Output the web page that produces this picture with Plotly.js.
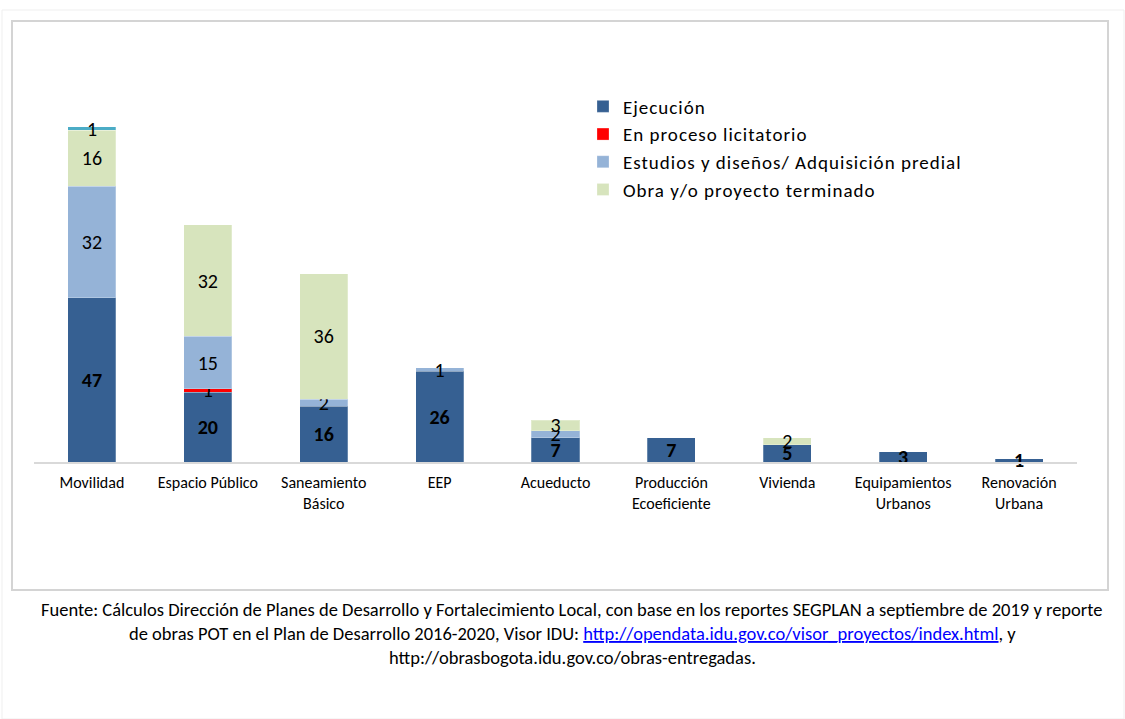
<!DOCTYPE html>
<html>
<head>
<meta charset="utf-8">
<script src="https://cdn.plot.ly/plotly-3.0.1.min.js"></script>
<style>
html,body{margin:0;padding:0;background:#fff;}
#chart{width:1125px;height:719px;}
#chart .legendtext{letter-spacing:1px;}
#chart .legend .scrollbox, #chart .legend *{clip-path:none !important;}
</style>
</head>
<body>
<div id="chart"></div>
<script>
var categories = ['Movilidad','Espacio Público','Saneamiento<br>Básico','EEP','Acueducto','Producción<br>Ecoeficiente','Vivienda','Equipamientos<br>Urbanos','Renovación<br>Urbana'];
var ejecucion = [47,20,16,26,7,7,5,3,1];
var licitatorio = [null,1,null,null,null,null,null,null,null];
var estudios = [32,15,2,1,2,null,null,null,null];
var terminado = [16,32,36,null,3,null,2,null,null];
var otro = [1,null,null,null,null,null,null,null,null];

var seriesNames = ['Ejecución','En proceso licitatorio','Estudios y diseños/ Adquisición predial','Obra y/o proyecto terminado',''];
var seriesColors = ['#366092','#FF0000','#95B3D7','#D7E4BD','#4BACC6'];
var seriesData = [ejecucion, licitatorio, estudios, terminado, otro];

var sourceLines = [
  'Fuente: Cálculos Dirección de Planes de Desarrollo y Fortalecimiento Local, con base en los reportes SEGPLAN a septiembre de 2019 y reporte',
  'de obras POT en el Plan de Desarrollo 2016-2020, Visor IDU: <span style="color:#0000FF;text-decoration:underline">http://opendata.idu.gov.co/visor_proyectos/index.html</span>, y',
  'http://obrasbogota.idu.gov.co/obras-entregadas.'
];

var FONT = 'Carlito, Calibri, "Open Sans", Lato, sans-serif';

var W = 1125, H = 719;
var L = 34, R = 1077, T = 113, B = 462;
function px(x){ return (x - L) / (R - L); }
function py(y){ return (B - y) / (B - T); }

var traces = seriesData.map(function(d, i){
  return {
    type: 'bar',
    x: categories,
    y: d,
    name: seriesNames[i],
    showlegend: i < 4,
    marker: {color: seriesColors[i], line: {color: 'rgba(255,255,255,0.25)', width: 1}},
    text: d.map(function(v){ return v == null ? '' : String(v); }),
    texttemplate: i === 0 ? '<b>%{text}</b>' : '%{text}',
    textposition: 'inside',
    insidetextanchor: 'middle',
    textangle: 0,
    insidetextfont: {family: FONT, size: 20, color: '#000'},
    cliponaxis: false,
    hoverinfo: 'x+y+name'
  };
});

var sourceY = [609, 633, 657];
var annotations = sourceLines.map(function(t, k){
  return {
    xref: 'paper', yref: 'paper', x: px(572), y: py(sourceY[k]), xanchor: 'center', yanchor: 'middle',
    showarrow: false, align: 'center',
    font: {family: FONT, size: 18.5, color: '#000'},
    text: t
  };
});

var layout = {
  width: W, height: H,
  margin: {l: L, r: W - R, t: T, b: H - B},
  paper_bgcolor: '#fff',
  plot_bgcolor: 'rgba(0,0,0,0)',
  barmode: 'stack',
  bargap: 0.585,
  uniformtext: {mode: 'show', minsize: 20},
  font: {family: FONT, size: 16, color: '#000'},
  xaxis: {
    showline: true, linecolor: '#D9D9D9', linewidth: 2,
    ticks: '', ticklabelstandoff: 5,
    tickfont: {family: FONT, size: 16, color: '#000'},
    showgrid: false, fixedrange: true
  },
  yaxis: {
    range: [0, 100], visible: false, showgrid: false, zeroline: false, fixedrange: true
  },
  legend: {
    x: px(583), y: py(87.5), xanchor: 'left', yanchor: 'top',
    traceorder: 'normal',
    font: {family: FONT, size: 19, color: '#000'},
    bgcolor: 'rgba(0,0,0,0)',
    itemwidth: 30
  },
  shapes: [
    {type: 'rect', xref: 'paper', yref: 'paper', x0: px(2), x1: px(1124), y0: py(719), y1: py(10),
     line: {color: '#EFEFEF', width: 1}, fillcolor: 'rgba(0,0,0,0)', layer: 'below'},
    {type: 'rect', xref: 'paper', yref: 'paper', x0: px(12), x1: px(1108), y0: py(590), y1: py(21),
     line: {color: '#D4D4D4', width: 2}, fillcolor: 'rgba(0,0,0,0)', layer: 'below'}
  ],
  annotations: annotations
};

Plotly.newPlot('chart', traces, layout, {displayModeBar: false, staticPlot: true});
</script>
</body>
</html>
